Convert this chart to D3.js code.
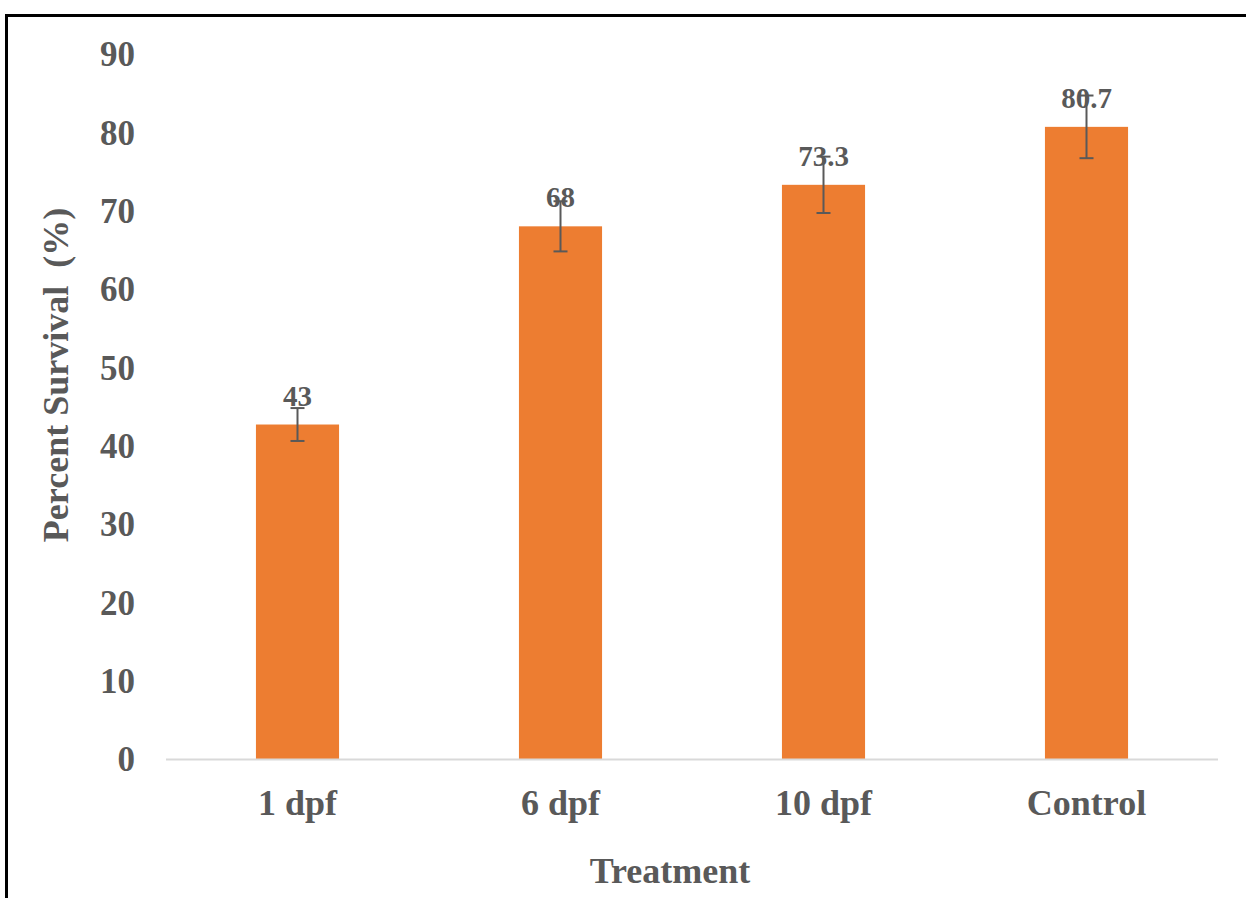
<!DOCTYPE html>
<html><head><meta charset="utf-8">
<script src="https://cdn.jsdelivr.net/npm/d3@7"></script>
<style>body{margin:0;background:#fff}svg{display:block}text{font-family:"Liberation Serif","Times New Roman",serif;font-weight:bold;fill:#595959}</style>
</head><body>
<script>
const categories = ["1 dpf", "6 dpf", "10 dpf", "Control"];
const values = [42.7, 68, 73.3, 80.7];
const labels = ["43", "68", "73.3", "80.7"];
const errors = [2.1, 3.2, 3.6, 4.0];
const yTicks = [0, 10, 20, 30, 40, 50, 60, 70, 80, 90];

const W = 1246, H = 898;
const svg = d3.select("body").append("svg").attr("width", W).attr("height", H);

// border
svg.append("path").attr("d", `M6.5,898 L6.5,15.5 L1246,15.5`).attr("fill", "none").attr("stroke", "#000").attr("stroke-width", 3);

const x = d3.scaleBand().domain(categories).range([166, 1218]).paddingInner(0.684).paddingOuter(0.342);
const y = d3.scaleLinear().domain([0, 90]).range([759, 54]);

// y tick labels
svg.append("g").selectAll("text").data(yTicks).join("text")
  .attr("x", 135).attr("y", d => y(d)).attr("dy", "0.35em")
  .attr("text-anchor", "end").attr("font-size", 35).text(d => d);

// bars
svg.append("g").selectAll("rect").data(values).join("rect")
  .attr("x", (d, i) => x(categories[i])).attr("width", x.bandwidth())
  .attr("y", d => y(d)).attr("height", d => y(0) - y(d)).attr("fill", "#ED7D31");

// x axis line
svg.append("line").attr("x1", 166).attr("x2", 1218).attr("y1", y(0) + 0.5).attr("y2", y(0) + 0.5)
  .attr("stroke", "#d9d9d9").attr("stroke-width", 2);

// error bars
const eb = svg.append("g").attr("stroke", "#595959").attr("stroke-width", 2);
values.forEach((v, i) => {
  const cx = x(categories[i]) + x.bandwidth() / 2;
  eb.append("line").attr("x1", cx).attr("x2", cx).attr("y1", y(v + errors[i])).attr("y2", y(v - errors[i]));
  [v + errors[i], v - errors[i]].forEach(e => {
    eb.append("line").attr("x1", cx - 7).attr("x2", cx + 7).attr("y1", y(e)).attr("y2", y(e));
  });
});

// data labels
svg.append("g").selectAll("text").data(values).join("text")
  .attr("x", (d, i) => x(categories[i]) + x.bandwidth() / 2).attr("y", d => y(d) - 19)
  .attr("text-anchor", "middle").attr("font-size", 29).text((d, i) => labels[i]);

// category labels
svg.append("g").selectAll("text").data(categories).join("text")
  .attr("x", d => x(d) + x.bandwidth() / 2).attr("y", 815)
  .attr("text-anchor", "middle").attr("font-size", 36).text(d => d);

// axis titles
svg.append("text").attr("x", 670).attr("y", 883).attr("text-anchor", "middle").attr("font-size", 36).text("Treatment");
svg.append("text").attr("transform", "translate(68,375) rotate(-90)").attr("text-anchor", "middle")
  .attr("font-size", 36).style("white-space", "pre").text("Percent Survival  (%)");
</script>
</body></html>
